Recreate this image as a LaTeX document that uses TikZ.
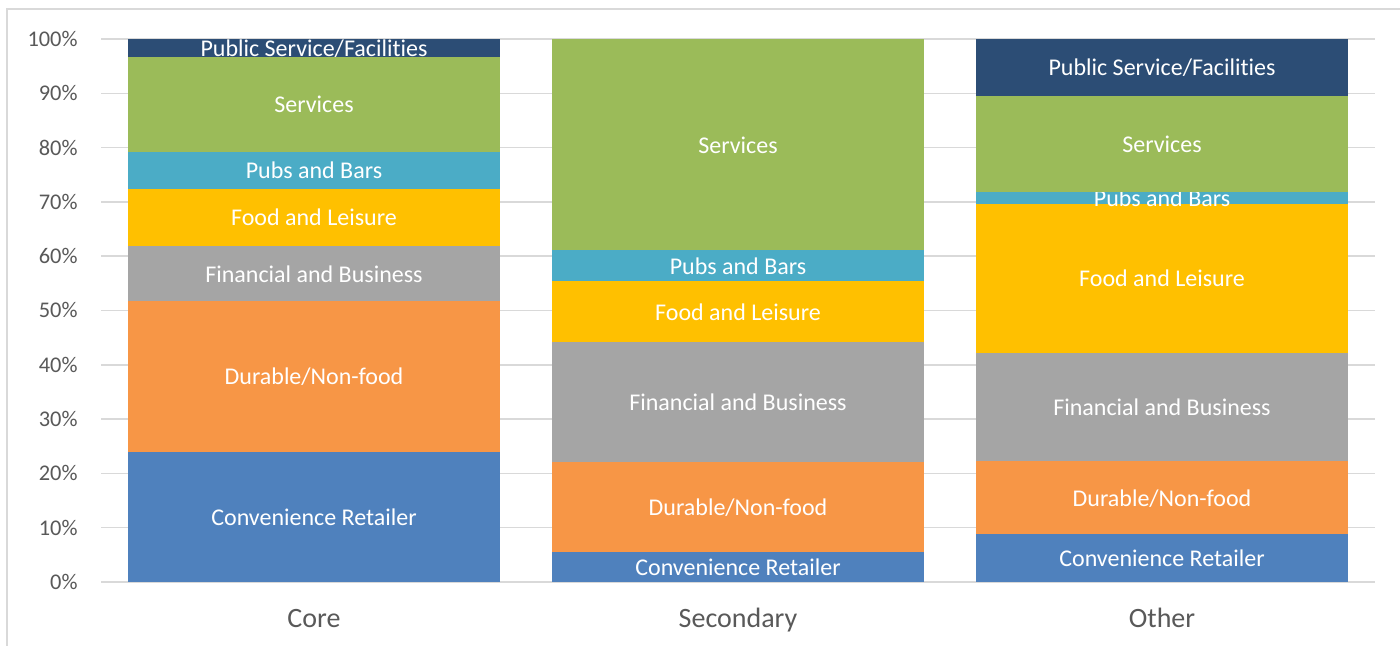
\documentclass[tikz,border=0pt]{standalone}
\usepackage{fontspec}
\setmainfont{Carlito}[Ligatures=CommonOff]
\definecolor{cCR}{HTML}{4F81BD}
\definecolor{cDN}{HTML}{F79646}
\definecolor{cFB}{HTML}{A5A5A5}
\definecolor{cFL}{HTML}{FFC000}
\definecolor{cPB}{HTML}{4BACC6}
\definecolor{cSV}{HTML}{9BBB59}
\definecolor{cPS}{HTML}{2C4D75}
\definecolor{gridc}{HTML}{D9D9D9}
\definecolor{axtext}{HTML}{595959}
\newcommand\segbar[6]{%
  \fill[#5] (#2,{582-5.43*#3}) rectangle ({#2+372},{582-5.43*#4});
  \node[seglabel] (#1) at ({#2+186},{584-5.43*(#3+#4)/2}) {#6};
}
\begin{document}
\begin{tikzpicture}[x=0.5pt,y=-0.5pt,
  seglabel/.style={text=white,font=\fontsize{12}{14}\selectfont,inner sep=0pt,text height=0.644em,text depth=0pt,anchor=center},
  ylab/.style={text=axtext,font=\fontsize{11.2}{13}\selectfont,inner sep=0pt,text height=0.644em,text depth=0pt,anchor=east},
  catlab/.style={text=axtext,font=\fontsize{14}{16}\selectfont,inner sep=0pt,text height=0.644em,text depth=0pt,anchor=center},
  gridline/.style={draw=gridc,line width=0.75pt},
  framebox/.style={draw=gridc,line width=0.75pt}]
\useasboundingbox (0,0) rectangle (1400,646);
\clip (0,0) rectangle (1400,646);
\fill[white] (0,0) rectangle (1400,646);
\draw[framebox] (7,9) rectangle (1420,670);
\foreach \p in {0,...,10}{
  \draw[gridline] (101,{582-54.3*\p}) -- (1375,{582-54.3*\p});
  \node[ylab] (y\p) at (78,{583-54.3*\p}) {\the\numexpr\p*10\relax\%};
}
% Core
\segbar{coreCR}{128}{0}{24.0}{cCR}{Convenience Retailer}
\segbar{coreDN}{128}{24.0}{51.7}{cDN}{Durable/Non-food}
\segbar{coreFB}{128}{51.7}{61.9}{cFB}{Financial and Business}
\segbar{coreFL}{128}{61.9}{72.4}{cFL}{Food and Leisure}
\segbar{corePB}{128}{72.4}{79.2}{cPB}{Pubs and Bars}
\segbar{coreSV}{128}{79.2}{96.7}{cSV}{Services}
\segbar{corePS}{128}{96.7}{100}{cPS}{Public Service/Facilities}
% Secondary
\segbar{secCR}{552}{0}{5.5}{cCR}{Convenience Retailer}
\segbar{secDN}{552}{5.5}{22.1}{cDN}{Durable/Non-food}
\segbar{secFB}{552}{22.1}{44.2}{cFB}{Financial and Business}
\segbar{secFL}{552}{44.2}{55.4}{cFL}{Food and Leisure}
\segbar{secPB}{552}{55.4}{61.1}{cPB}{Pubs and Bars}
\segbar{secSV}{552}{61.1}{100}{cSV}{Services}
% Other
\segbar{othCR}{976}{0}{8.8}{cCR}{Convenience Retailer}
\segbar{othDN}{976}{8.8}{22.2}{cDN}{Durable/Non-food}
\segbar{othFB}{976}{22.2}{42.1}{cFB}{Financial and Business}
\segbar{othFL}{976}{42.1}{69.7}{cFL}{Food and Leisure}
\segbar{othPB}{976}{69.7}{71.8}{cPB}{Pubs and Bars}
\segbar{othSV}{976}{71.8}{89.5}{cSV}{Services}
\segbar{othPS}{976}{89.5}{100}{cPS}{Public Service/Facilities}
% categories
\node[catlab] (catCore) at (314,621) {Core};
\node[catlab] (catSec) at (738,621) {Secondary};
\node[catlab] (catOth) at (1162,621) {Other};
\end{tikzpicture}
\end{document}
